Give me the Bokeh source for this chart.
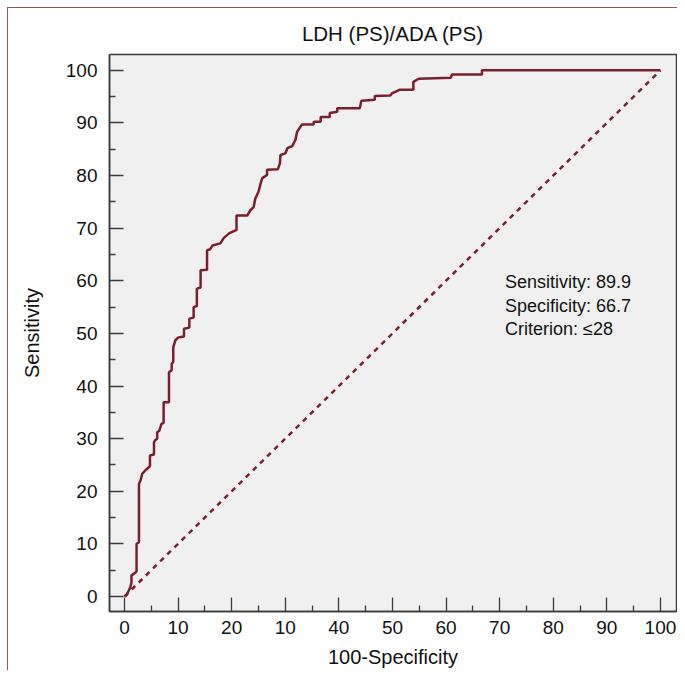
from bokeh.plotting import figure
from bokeh.models import Range1d, FixedTicker, ColumnDataSource
from bokeh.core.properties import value
from bokeh.embed import file_html
from bokeh.resources import INLINE

# ROC curve vertices: 100-Specificity (x) vs Sensitivity (y)
FPR = [0, 0.4, 1.1, 1.3, 1.3, 1.7, 2.1, 2.25, 2.25, 2.7, 2.7, 3.0, 3.3, 3.9, 4.6,
       4.75, 4.75, 5.5, 5.5, 5.7, 6.1, 6.1, 6.5, 6.9, 7.3, 7.3, 8.3, 8.3, 8.8, 8.8,
       9.1, 9.1, 9.5, 10.0, 10.5, 11.1, 11.1, 12.1, 12.1, 12.9, 12.9, 13.5, 13.5,
       14.2, 14.2, 15.4, 15.4, 16.0, 16.4, 17.9, 18.5, 19.5, 20.7, 20.9, 20.9, 22.9,
       23.5, 24.1, 24.4, 25.0, 25.4, 25.7, 26.6, 26.6, 28.6, 29.0, 29.1, 30.0, 30.4,
       31.3, 31.9, 32.2, 33.1, 35.3, 35.3, 36.6, 36.6, 38.3, 38.3, 39.7, 39.7, 43.9,
       44.2, 46.7, 46.7, 49.6, 49.9, 51.3, 53.9, 53.9, 54.9, 60.9, 61.1, 66.7, 66.7,
       100]
TPR = [0, 0.3, 1.8, 2.7, 4.0, 4.3, 4.6, 4.8, 10.0, 10.3, 21.4, 22.1, 23.3, 24.0, 24.6,
       24.8, 26.8, 27.0, 29.3, 29.7, 30.0, 31.2, 31.5, 32.8, 33.0, 36.9, 36.9, 42.6, 43.0, 44.2,
       44.6, 47.4, 48.7, 49.2, 49.3, 49.4, 50.9, 51.1, 52.8, 53.0, 55.0, 55.2, 58.5,
       58.7, 62.0, 62.1, 65.8, 66.0, 66.7, 67.1, 68.1, 69.0, 69.6, 69.6, 72.4, 72.4,
       73.4, 74.0, 75.6, 76.9, 78.5, 79.5, 80.1, 81.1, 81.2, 82.3, 83.9, 84.2, 85.2,
       85.6, 86.8, 88.3, 89.7, 89.7, 90.2, 90.2, 91.1, 91.1, 91.9, 92.1, 92.8, 92.8,
       94.2, 94.4, 95.1, 95.2, 95.6, 96.3, 96.3, 97.8, 98.4, 98.6, 99.2, 99.2, 100,
       100]

DIAG_X = [0, 100]
DIAG_Y = [0, 100]

X_TICKS = [0, 10, 20, 30, 40, 50, 60, 70, 80, 90, 100]
X_TICK_LABELS = ["0", "10", "20", "10", "40", "50", "60", "70", "80", "90", "100"]
Y_TICKS = [0, 10, 20, 30, 40, 50, 60, 70, 80, 90, 100]
MINOR_TICKS = [5, 15, 25, 35, 45, 55, 65, 75, 85, 95]

STATS = ["Sensitivity: 89.9", "Specificity: 66.7", "Criterion: \u226428"]

TITLE = "LDH (PS)/ADA (PS)"
X_LABEL = "100-Specificity"
Y_LABEL = "Sensitivity"

CURVE = "#7b1f2d"
FONT = "Liberation Sans"
AX = "#3a3a3a"

p = figure(frame_width=567, frame_height=557,
           x_range=Range1d(-2.8, 103), y_range=Range1d(-2.85, 103),
           output_backend="svg", toolbar_location=None,
           min_border_left=101, min_border_right=1, min_border_top=46, min_border_bottom=58,
           title=TITLE)
p.styles = {"margin-left": "7px", "margin-top": "7px",
            "border-left": "1px solid #9c5252", "border-top": "1px solid #9c5252"}

p.title.align = "center"
p.title.text_font = FONT
p.title.text_font_size = "20.5px"
p.title.text_font_style = "normal"
p.title.text_color = "#111111"
p.title.standoff = 19

p.background_fill_color = "#f0f0f0"
p.border_fill_color = "white"
p.outline_line_color = AX
p.outline_line_width = 1.5
p.grid.visible = False

p.xaxis.ticker = FixedTicker(ticks=X_TICKS, minor_ticks=MINOR_TICKS)
p.yaxis.ticker = FixedTicker(ticks=Y_TICKS, minor_ticks=MINOR_TICKS)
p.xaxis.major_label_overrides = {t: l for t, l in zip(X_TICKS, X_TICK_LABELS)}

for ax in (p.xaxis[0], p.yaxis[0]):
    ax.axis_line_color = AX
    ax.axis_line_width = 1.5
    ax.major_tick_line_color = AX
    ax.minor_tick_line_color = AX
    ax.major_tick_line_width = 1.3
    ax.minor_tick_line_width = 1.3
    ax.major_tick_in = 14
    ax.major_tick_out = 0
    ax.minor_tick_in = 6
    ax.minor_tick_out = 0
    ax.major_label_text_font = FONT
    ax.major_label_text_font_size = "19px"
    ax.major_label_text_color = "#111111"
    ax.axis_label_text_font = FONT
    ax.axis_label_text_font_size = "20px"
    ax.axis_label_text_font_style = "normal"
    ax.axis_label_text_color = "#111111"

p.xaxis.axis_label = X_LABEL
p.yaxis.axis_label = Y_LABEL
p.xaxis.major_label_standoff = 9
p.yaxis.major_label_standoff = 12
p.xaxis.axis_label_standoff = 9
p.yaxis.axis_label_standoff = 20

p.line(DIAG_X, DIAG_Y, line_color=CURVE, line_width=2.5, line_dash="5 5")
p.line(FPR, TPR, line_color=CURVE, line_width=2.5)

src = ColumnDataSource(dict(x=[71.0] * len(STATS),
                            y=[59.7 - 4.45 * i for i in range(len(STATS))],
                            t=STATS))
p.text(x="x", y="y", text="t", source=src, text_font=value(FONT),
       text_font_size="18px", text_baseline="middle", text_align="left",
       text_color="#111111")

open("out.html", "w").write(file_html(p, INLINE))
